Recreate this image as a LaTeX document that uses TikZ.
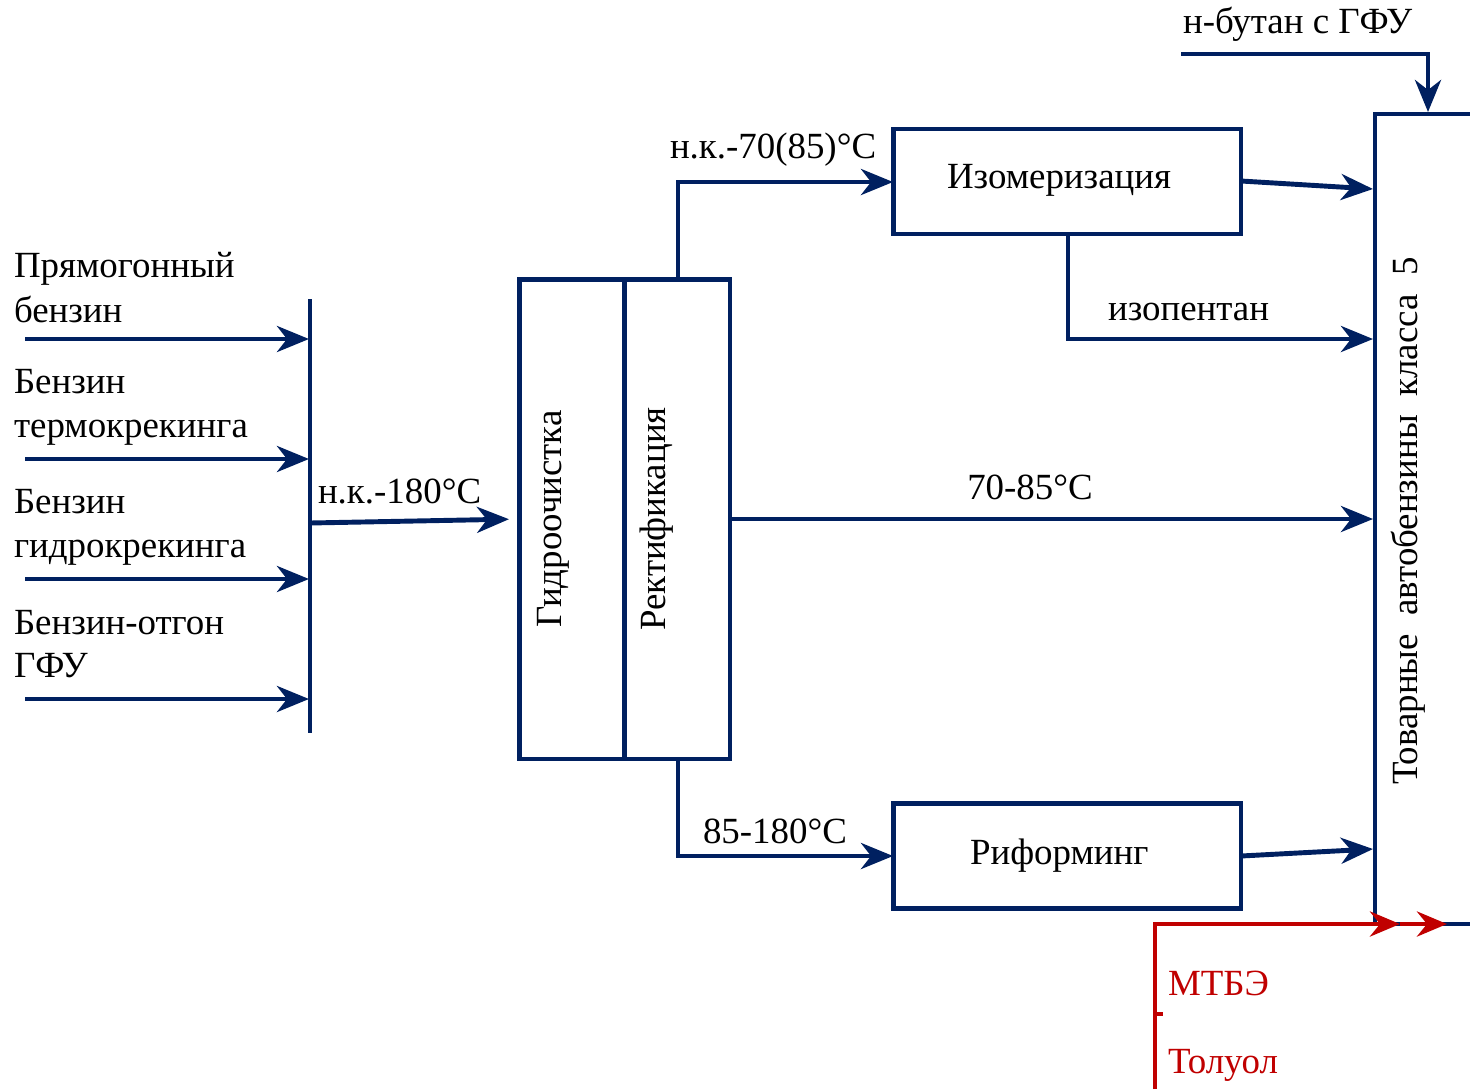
\documentclass[tikz,border=0pt]{standalone}
\usepackage{fontspec}
\setmainfont{Liberation Serif}
\usetikzlibrary{arrows.meta}
\definecolor{navy}{RGB}{0,32,96}
\definecolor{dred}{RGB}{192,0,0}
\begin{document}
\begin{tikzpicture}[x=0.02cm,y=-0.02cm,
  font=\fontsize{21}{25}\selectfont,
  every node/.style={inner sep=0pt, outer sep=0pt},
  pipe/.style={draw=navy, line width=2.8pt},
  flow/.style={pipe, -{Stealth[length=0.64cm,width=0.52cm,inset=0.2cm]}},
  redflow/.style={draw=dred, line width=2.8pt, -{Stealth[length=0.6cm,width=0.5cm,inset=0.2cm]}},
  procbox/.style={draw=navy, line width=2.8pt, minimum width=6.96cm, minimum height=2.1cm},
  colbox/.style={draw=navy, line width=2.8pt, minimum width=2.1cm, minimum height=9.6cm},
  lbl/.style={anchor=base west},
  vlbl/.style={rotate=90, anchor=center}
]
\useasboundingbox (0,0) rectangle (1470,1089);

% feed labels
\node[lbl] (t1a) at (14,277) {Прямогонный};
\node[lbl] (t1b) at (14,322) {бензин};
\node[lbl] (t2a) at (14,393) {Бензин};
\node[lbl] (t2b) at (14,437) {термокрекинга};
\node[lbl] (t3a) at (14,513) {Бензин};
\node[lbl] (t3b) at (14,557) {гидрокрекинга};
\node[lbl] (t4a) at (14,634) {Бензин-отгон};
\node[lbl] (t4b) at (14,677) {ГФУ};

% collector bar
\coordinate (bartop) at (310,299);
\coordinate (barbot) at (310,733);
\draw[pipe] (bartop) -- (barbot);
\foreach \i/\y in {1/339,2/459,3/579,4/699}{
  \coordinate (s\i) at (25,\y);
  \coordinate (e\i) at (309,\y);
  \draw[flow] (s\i) -- (e\i);
}

% hydrotreating / rectification
\node[colbox] (hyd) at (572,519) {};
\node[colbox] (rect) at (677.5,519) {};
\node[vlbl] (hydt) at (553,519) {Гидроочистка};
\node[vlbl] (rectt) at (657,519) {Ректификация};

\coordinate (barout) at (310,523);
\draw[flow, shorten >=6pt] (barout) -- (hyd.west);
\node[lbl] (l180) at (318,503) {н.к.-180°C};

% isomerization
\node[procbox] (izo) at (1067,181.5) {};
\node[lbl] (izot) at (947,188) {Изомеризация};
% reforming
\node[procbox] (ref) at (1067,856) {};
\node[lbl] (reft) at (970,864) {Риформинг};

% product box
\coordinate (pTR) at (1470,114);
\coordinate (pTL) at (1375,114);
\coordinate (pBL) at (1375,924);
\coordinate (pBR) at (1470,924);
\draw[pipe] (pTR) -- (pTL) -- (pBL) -- (pBR);
\node[rotate=90] (prodt) at (1408,521) {\makebox[10.56cm][s]{Товарные \ автобензины \ класса \ 5}};

% connectors to product
\coordinate (rtop) at (678,279);
\coordinate (rbot) at (678,759);
\draw[flow] (rtop) -- (678,182) -- (izo.west |- 0,182);
\node[lbl] (l70) at (670,158) {н.к.-70(85)°C};

\coordinate (p1) at (1373,189);
\draw[flow] (1241,181) -- (p1);

\coordinate (izob) at (1068,234);
\coordinate (p2) at (1373,339);
\draw[flow] (izob) -- (1068,339) -- (p2);
\node[lbl] (liso) at (1108,320) {изопентан};

\coordinate (p3) at (1373,519);
\draw[flow] (rect.east |- 0,519) -- (p3);
\node[anchor=base] (l7085) at (1030,499) {70-85°C};

\draw[flow] (rbot) -- (678,856) -- (ref.west |- 0,856);
\node[lbl] (l85) at (703,843) {85-180°C};

\coordinate (p4) at (1373,849);
\draw[flow] (1241,856) -- (p4);

% n-butane
\coordinate (nb0) at (1181,54);
\coordinate (nb1) at (1428,112);
\draw[flow] (nb0) -- (1428,54) -- (nb1);
\node[lbl] (lnb) at (1183,33) {н-бутан с ГФУ};

% red additives
\coordinate (r0) at (1155,1089);
\coordinate (rc) at (1155,924);
\coordinate (ra1) at (1400,924);
\coordinate (ra2) at (1447,924);
\draw[redflow] (r0) -- (rc) -- (ra1);
\draw[redflow] (ra1) -- (ra2);
\draw[draw=dred, line width=2.8pt] (1155,1014) -- (1163,1014);
\node[lbl, text=dred] (lmtbe) at (1168,995) {МТБЭ};
\node[lbl, text=dred] (ltol) at (1168,1073) {Толуол};
\end{tikzpicture}
\end{document}
